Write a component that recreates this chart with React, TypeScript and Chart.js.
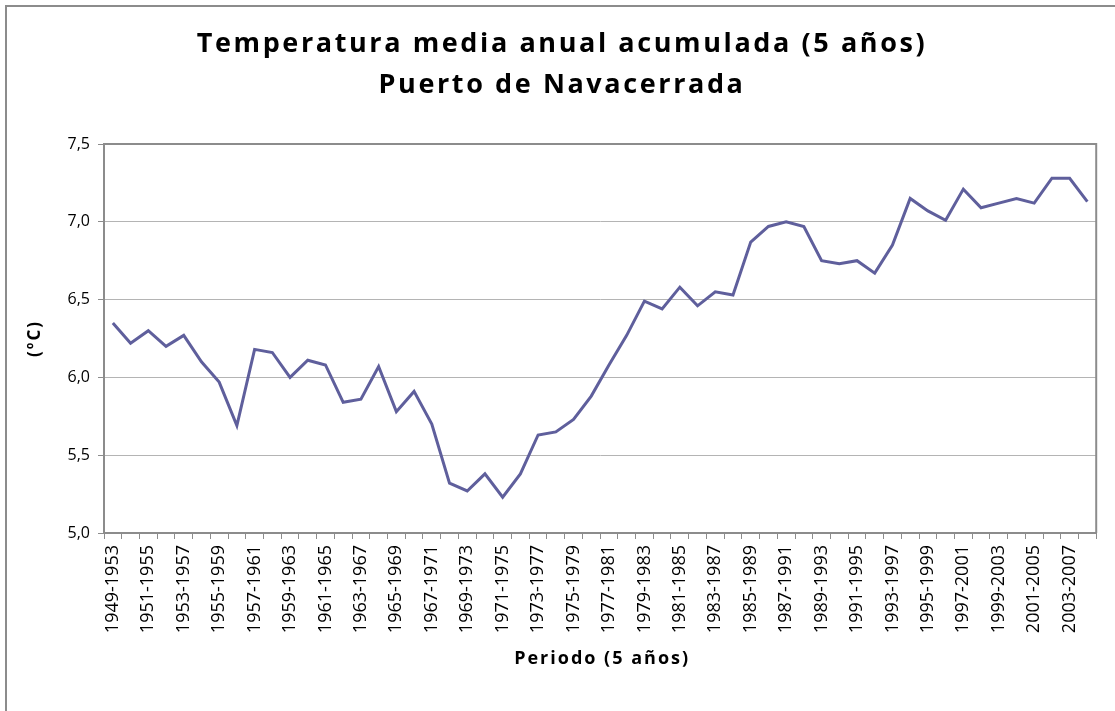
import React, { useEffect, useRef } from "react";
import { Chart, registerables } from "chart.js";

Chart.register(...registerables);

const periods: string[] = [
  "1949-1953", "1950-1954", "1951-1955", "1952-1956", "1953-1957", "1954-1958",
  "1955-1959", "1956-1960", "1957-1961", "1958-1962", "1959-1963", "1960-1964",
  "1961-1965", "1962-1966", "1963-1967", "1964-1968", "1965-1969", "1966-1970",
  "1967-1971", "1968-1972", "1969-1973", "1970-1974", "1971-1975", "1972-1976",
  "1973-1977", "1974-1978", "1975-1979", "1976-1980", "1977-1981", "1978-1982",
  "1979-1983", "1980-1984", "1981-1985", "1982-1986", "1983-1987", "1984-1988",
  "1985-1989", "1986-1990", "1987-1991", "1988-1992", "1989-1993", "1990-1994",
  "1991-1995", "1992-1996", "1993-1997", "1994-1998", "1995-1999", "1996-2000",
  "1997-2001", "1998-2002", "1999-2003", "2000-2004", "2001-2005", "2002-2006",
  "2003-2007", "2004-2008",
];

const temperatures: number[] = [
  6.35, 6.22, 6.30, 6.20, 6.27, 6.10, 5.97, 5.69, 6.18, 6.16,
  6.00, 6.11, 6.08, 5.84, 5.86, 6.07, 5.78, 5.91, 5.70, 5.32,
  5.27, 5.38, 5.23, 5.38, 5.63, 5.65, 5.73, 5.88, 6.08, 6.27,
  6.49, 6.44, 6.58, 6.46, 6.55, 6.53, 6.87, 6.97, 7.00, 6.97,
  6.75, 6.73, 6.75, 6.67, 6.85, 7.15, 7.07, 7.01, 7.21, 7.09,
  7.12, 7.15, 7.12, 7.28, 7.28, 7.13,
];

const titleLines: string[] = [
  "Temperatura media anual acumulada (5 años)",
  "Puerto de Navacerrada",
];
const xAxisTitle = "Periodo (5 años)";
const yAxisTitle = "(ºC)";

const FONT = '"Open Sans", "Liberation Sans", sans-serif';
const GRAY = "#8c8c8c";

function setSpacing(ctx: any, px: number) {
  try { ctx.letterSpacing = `${px}px`; } catch (e) {}
}

const framePlugin = {
  id: "frameAndTitle",
  beforeDraw(chart: any) {
    const { ctx } = chart;
    ctx.save();
    ctx.fillStyle = "#ffffff";
    ctx.fillRect(0, 0, chart.width, chart.height);
    ctx.strokeStyle = GRAY;
    ctx.lineWidth = 2;
    ctx.strokeRect(6, 6, chart.width + 20, chart.height + 20);
    ctx.restore();
  },
  afterDraw(chart: any) {
    const { ctx, chartArea } = chart;
    ctx.save();
    // plot box top/right border
    ctx.strokeStyle = GRAY;
    ctx.lineWidth = 2;
    ctx.beginPath();
    ctx.moveTo(chartArea.left, chartArea.top);
    ctx.lineTo(chartArea.right, chartArea.top);
    ctx.lineTo(chartArea.right, chartArea.bottom);
    ctx.stroke();

    ctx.fillStyle = "#000000";
    ctx.textAlign = "center";

    // chart title
    ctx.font = `700 27px ${FONT}`;
    ctx.textBaseline = "alphabetic";
    setSpacing(ctx, 2.6);
    ctx.fillText(titleLines[0], 562, 52);
    ctx.fillText(titleLines[1], 562, 93);

    // x axis title
    ctx.font = `700 18px ${FONT}`;
    ctx.textBaseline = "middle";
    setSpacing(ctx, 2);
    ctx.fillText(xAxisTitle, (chartArea.left + chartArea.right) / 2 + 2, 659);

    // y axis title (rotated)
    ctx.save();
    ctx.translate(35, (chartArea.top + chartArea.bottom) / 2 + 1);
    ctx.rotate(-Math.PI / 2);
    ctx.font = `700 17px ${FONT}`;
    setSpacing(ctx, 2);
    ctx.fillText(yAxisTitle, 1, 0);
    ctx.restore();

    ctx.restore();
  },
};

export default function App() {
  const canvasRef = useRef<HTMLCanvasElement | null>(null);

  useEffect(() => {
    if (!canvasRef.current) return;
    const chart = new Chart(canvasRef.current, {
      type: "line",
      data: {
        labels: periods,
        datasets: [
          {
            data: temperatures,
            borderColor: "#5f5f9c",
            borderWidth: 3,
            pointRadius: 0,
            tension: 0,
            fill: false,
          },
        ],
      },
      options: {
        animation: false,
        responsive: false,
        devicePixelRatio: 1,
        layout: { padding: { left: 10, right: 5, top: 144, bottom: 30 } },
        plugins: {
          legend: { display: false },
          tooltip: { enabled: false },
          title: { display: false },
        },
        scales: {
          x: {
            type: "category",
            offset: true,
            afterFit: (s: any) => { s.height = 148; },
            grid: {
              display: true,
              offset: true,
              drawOnChartArea: false,
              drawTicks: true,
              tickLength: 6,
              color: GRAY,
              lineWidth: 1,
            },
            border: { display: true, color: GRAY, width: 2 },
            ticks: {
              autoSkip: false,
              maxRotation: 90,
              minRotation: 90,
              padding: 6,
              color: "#000000",
              font: { family: FONT, size: 18 },
              callback: (_v: any, i: number) => (i % 2 === 0 ? periods[i] : ""),
            },
            title: { display: false },
          },
          y: {
            min: 5,
            max: 7.5,
            afterFit: (s: any) => { s.width = 94; },
            grid: {
              color: "#b4b4b4",
              tickColor: GRAY,
              lineWidth: 1,
              tickLength: 6,
            },
            border: { display: true, color: GRAY, width: 2 },
            ticks: {
              stepSize: 0.5,
              padding: 8,
              color: "#000000",
              font: { family: FONT, size: 16 },
              callback: (v: any) => Number(v).toFixed(1).replace(".", ","),
            },
            title: { display: false },
          },
        },
      },
      plugins: [framePlugin],
    } as any);
    return () => chart.destroy();
  }, []);

  return (
    <canvas
      ref={canvasRef}
      width={1115}
      height={711}
      style={{ position: "fixed", left: 0, top: 0, width: 1115, height: 711 }}
    />
  );
}
